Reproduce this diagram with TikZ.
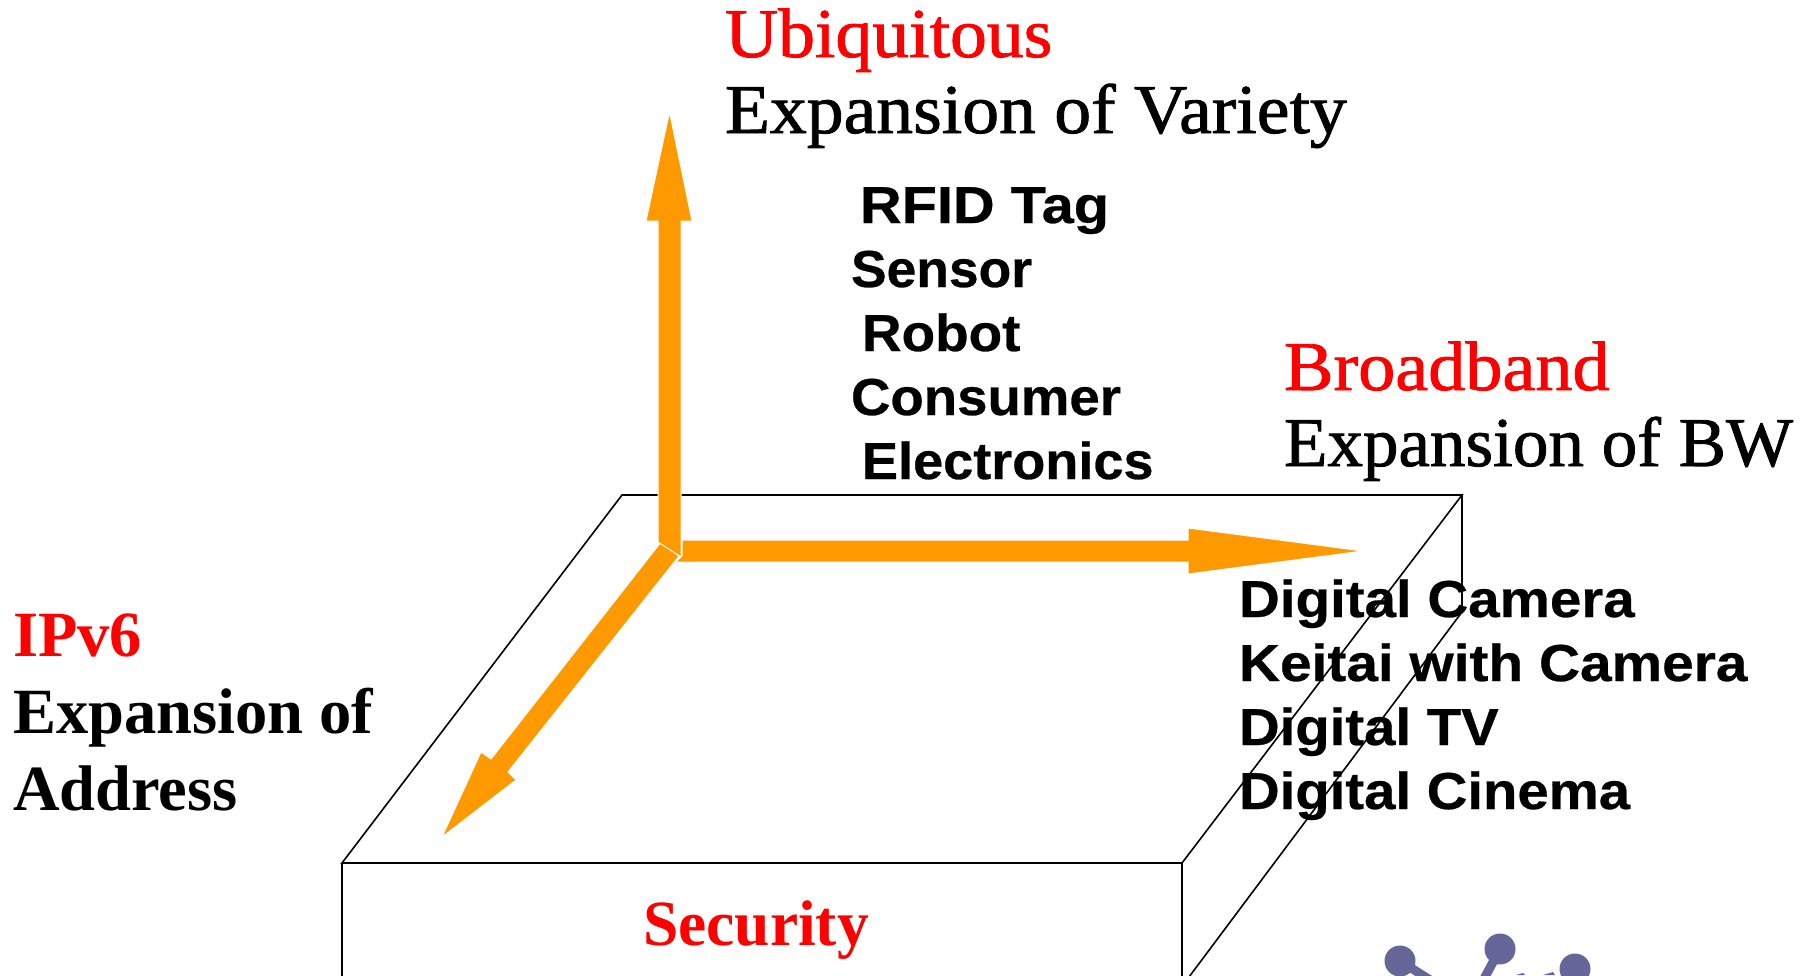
\documentclass[tikz,border=0pt]{standalone}
\usepackage{graphicx}
\usepackage{fontspec}
\setmainfont{Liberation Serif}
\newfontface\labelsans[FakeBold=0.5]{Liberation Sans Bold}
\newfontface\heavyserif[FakeBold=1.2]{Liberation Serif}
\newcommand{\hx}[2]{\scalebox{#1}[1]{#2}}
\definecolor{arroworange}{RGB}{255,153,0}
\definecolor{hubpurple}{RGB}{102,102,153}
\definecolor{headred}{RGB}{255,0,0}
\tikzset{
  headtext/.style={anchor=base west,inner sep=0pt,outer sep=0pt,font=\fontsize{70}{70}\selectfont\heavyserif},
  redhead/.style={headtext,text=headred},
  redbold/.style={headtext,text=headred,font=\fontsize{64.5}{64.5}\selectfont\bfseries},
  blackbold/.style={headtext,font=\fontsize{64.5}{64.5}\selectfont\bfseries},
  devtext/.style={anchor=base west,inner sep=0pt,outer sep=0pt,font=\fontsize{52}{52}\selectfont\labelsans},
  boxline/.style={draw=black,line width=1.6pt},
  bigarrow/.style={fill=arroworange,draw=white,line width=1pt,line join=miter},
  hubdot/.style={fill=hubpurple,draw=none},
  hubline/.style={draw=hubpurple,line width=9pt}
}
\begin{document}
\begin{tikzpicture}[x=1pt,y=-1pt]
\useasboundingbox (0,0) rectangle (1810,975);
\clip (0,0) rectangle (1810,975);
% slab
\coordinate (tl) at (622,495);
\coordinate (tr) at (1462,495);
\coordinate (fl) at (342,863);
\coordinate (fr) at (1182,863);
\coordinate (rv) at (1462,612);
\draw[boxline] (tl) -- (tr) -- (fr) -- (fl) -- cycle;
\draw[boxline] (fl) -- (342,985);
\draw[boxline] (fr) -- (1182,985);
\draw[boxline] (tr) -- (rv) -- (1183,985);
% arrows
\fill[bigarrow] (661,542) -- (679,556) -- (508,772) -- (516,780) -- (442,837) -- (481,752) -- (491,759) -- cycle;
\fill[bigarrow] (658,542) -- (658,221) -- (646,221) -- (669.5,112) -- (692,221) -- (681,221) -- (681,557) -- cycle;
\fill[bigarrow] (682,540) -- (1188,540) -- (1188,528) -- (1363,551) -- (1188,574) -- (1188,562) -- (676,562) -- (682,556) -- cycle;
% hub fragment
\draw[hubline] (1400,961) -- (1438,985);
\draw[hubline] (1500,949) -- (1480.7,985);
\fill[hubpurple] (1516,975) -- (1523,973) -- (1525,975) -- cycle;
\fill[hubpurple] (1543,975) -- (1553,972) -- (1555,975) -- cycle;
\fill[hubdot] (1400,961) circle (15.5);
\fill[hubdot] (1500,949) circle (15.5);
\fill[hubdot] (1575,969) circle (15.5);
% headings
\node[redhead] (ubi) at (725,57) {\hx{1.052}{Ubiquitous}};
\node[headtext] (var) at (725,133) {\hx{1.052}{Expansion of Variety}};
\node[redhead] (bro) at (1284,390) {\hx{1.06}{Broadband}};
\node[headtext] (bw) at (1284,466) {\hx{1.015}{Expansion of BW}};
\node[redbold] (ipv) at (13,656) {IPv6};
\node[blackbold] (addr1) at (13,733) {Expansion of};
\node[blackbold] (addr2) at (13,810) {Address};
\node[redbold] (sec) at (643,945) {\hx{0.985}{Security}};
% device lists
\node[devtext] (d1) at (860,223) {\hx{1.11}{RFID Tag}};
\node[devtext] (d2) at (851,287) {\hx{1.027}{Sensor}};
\node[devtext] (d3) at (862,351) {\hx{1.055}{Robot}};
\node[devtext] (d4) at (851,415) {\hx{1.05}{Consumer}};
\node[devtext] (d5) at (862,479) {\hx{1.04}{Electronics}};
\node[devtext] (c1) at (1239,617) {\hx{1.087}{Digital Camera}};
\node[devtext] (c2) at (1239,681) {\hx{1.093}{Keitai with Camera}};
\node[devtext] (c3) at (1239,745) {\hx{1.083}{Digital TV}};
\node[devtext] (c4) at (1239,809) {\hx{1.083}{Digital Cinema}};
\end{tikzpicture}
\end{document}
